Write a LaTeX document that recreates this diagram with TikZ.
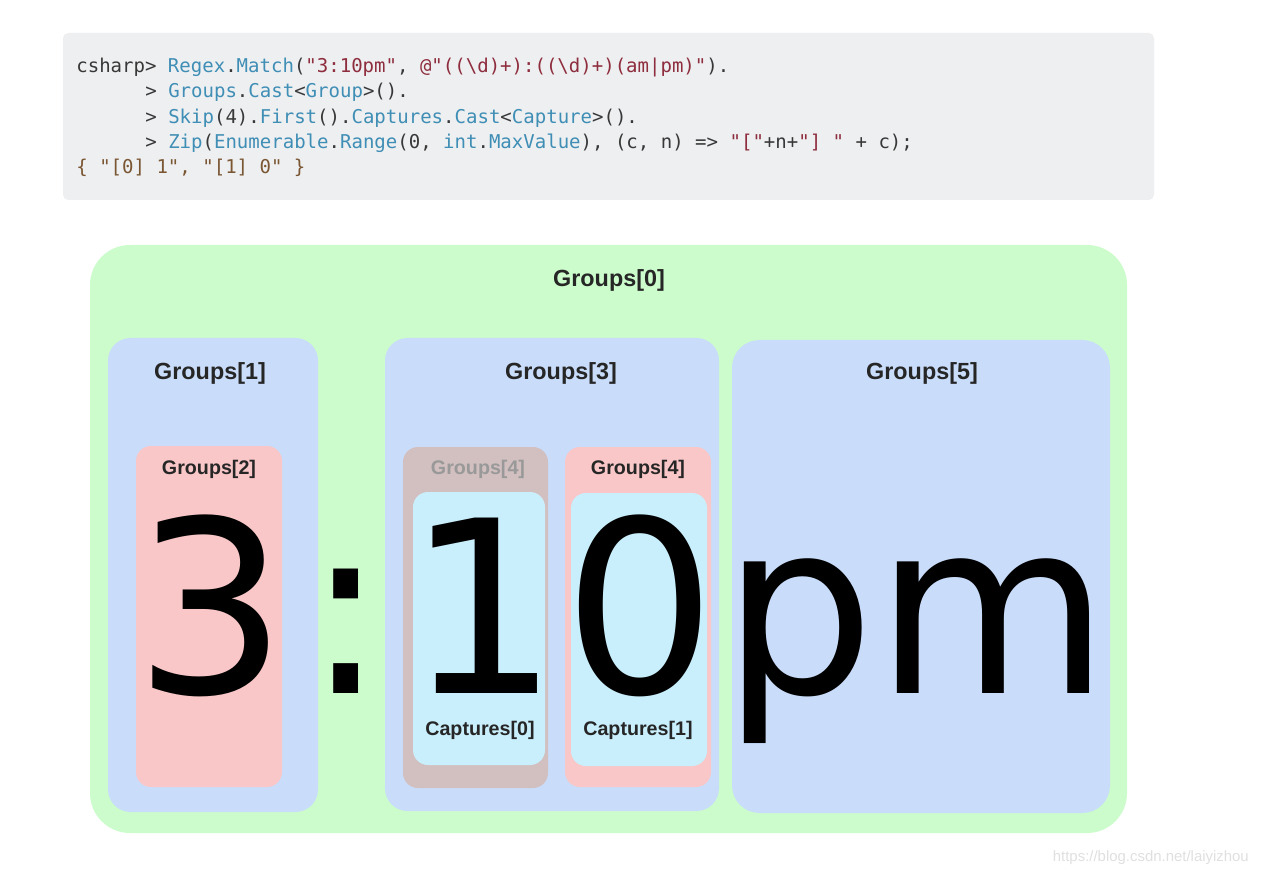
\documentclass[tikz,border=0pt]{standalone}
\usepackage{fontspec}
\usetikzlibrary{fit}
\newfontfamily\lblfont{Liberation Sans}
\newfontfamily\bigfont{DejaVu Sans}
\newfontfamily\codefont{DejaVu Sans Mono}
\definecolor{codebg}{HTML}{EEEFF1}
\definecolor{codetype}{HTML}{3F8EB5}
\definecolor{codestr}{HTML}{8E2D3D}
\definecolor{codeplain}{HTML}{383838}
\definecolor{codeout}{HTML}{7A5633}
\definecolor{grpgreen}{HTML}{CCFCCC}
\definecolor{grpblue}{HTML}{C9DDFA}
\definecolor{grppink}{HTML}{F9C7C7}
\definecolor{grpgrey}{HTML}{D2BFC0}
\definecolor{capcyan}{HTML}{C9EFFC}
\newcommand\cty[1]{\textcolor{codetype}{#1}}
\newcommand\cstr[1]{\textcolor{codestr}{#1}}
\tikzset{
	box/.style={inner sep=0pt, draw=none},
	grplbl/.style={font=\lblfont\bfseries\fontsize{13.3}{14}\selectfont, text=black!85},
	smlbl/.style={font=\lblfont\bfseries\fontsize{11.2}{12}\selectfont, text=black!85},
	bigch/.style={font=\bigfont\fontsize{137}{137}\selectfont, anchor=base, inner sep=0pt},
	codeln/.style={font=\codefont\fontsize{10.83}{13}\selectfont, anchor=base west, inner sep=0pt, text=codeplain},
}

\begin{document}
\begin{tikzpicture}[x=0.02cm, y=-0.02cm]
	\useasboundingbox[fill=white] (0,0) rectangle (1264,878);
	% code sample
	\node[box, fill=codebg, rounded corners=3pt, fit={(63,33) (1154,200)}] (code) {};
	\node[codeln] (ln1) at (76,73) {csharp> \cty{Regex}.\cty{Match}(\cstr{"3:10pm"}, \cstr{@"((\textbackslash d)+):((\textbackslash d)+)(am|pm)"}).};
	\node[codeln] (ln2) at (145,98) {> \cty{Groups}.\cty{Cast}<\cty{Group}>().};
	\node[codeln] (ln3) at (145,123.5) {> \cty{Skip}(4).\cty{First}().\cty{Captures}.\cty{Cast}<\cty{Capture}>().};
	\node[codeln] (ln4) at (145,149) {> \cty{Zip}(\cty{Enumerable}.\cty{Range}(0, \cty{int}.\cty{MaxValue}), (c, n) => \cstr{"["}+n+\cstr{"] "} + c);};
	\node[codeln, text=codeout] (ln5) at (76,174) {\{ "[0] 1", "[1] 0" \}};
	% group boxes
	\node[box, fill=grpgreen, rounded corners=0.8cm, fit={(90,245) (1127,833)}] (g0) {};
	\node[box, fill=grpblue, rounded corners=0.45cm, fit={(108,338) (318,812)}] (g1) {};
	\node[box, fill=grppink, rounded corners=0.3cm, fit={(136,446) (282,787)}] (g2) {};
	\node[box, fill=grpblue, rounded corners=0.45cm, fit={(385,338) (719,811)}] (g3) {};
	\node[box, fill=grpgrey, rounded corners=0.3cm, fit={(403,447) (548,788)}] (g4a) {};
	\node[box, fill=capcyan, rounded corners=0.3cm, fit={(413,492) (545,765)}] (c0) {};
	\node[box, fill=grppink, rounded corners=0.3cm, fit={(565,447) (711,787)}] (g4b) {};
	\node[box, fill=capcyan, rounded corners=0.3cm, fit={(571,493) (707,766)}] (c1) {};
	\node[box, fill=grpblue, rounded corners=0.55cm, fit={(732,340) (1110,813)}] (g5) {};
	% labels
	\node[grplbl] (l0) at (609,280) {Groups[0]};
	\node[grplbl] (l1) at (210,373) {Groups[1]};
	\node[grplbl] (l3) at (561,373) {Groups[3]};
	\node[grplbl] (l5) at (922,373) {Groups[5]};
	\node[smlbl] (l2) at (209,469) {Groups[2]};
	\node[smlbl, text=black!40] (l4a) at (478,469) {Groups[4]};
	\node[smlbl] (l4b) at (638,469) {Groups[4]};
	\node[smlbl] (lc0) at (480,730) {Captures[0]};
	\node[smlbl] (lc1) at (638,730) {Captures[1]};
	% matched text
	\node[bigch] (ch3) at (211,693) {3};
	\node[bigch] (chc) at (346,693) {:};
	\node[bigch] (ch1) at (483,693) {1};
	\node[bigch] (ch0) at (640,693) {0};
	\node[bigch] (chpm) at (916,693) {pm};
	\node[font=\lblfont\fontsize{8.5}{9}\selectfont, text=black!12, anchor=east] (wm) at (1255,858) {https://blog.csdn.net/laiyizhou};
\end{tikzpicture}
\end{document}
